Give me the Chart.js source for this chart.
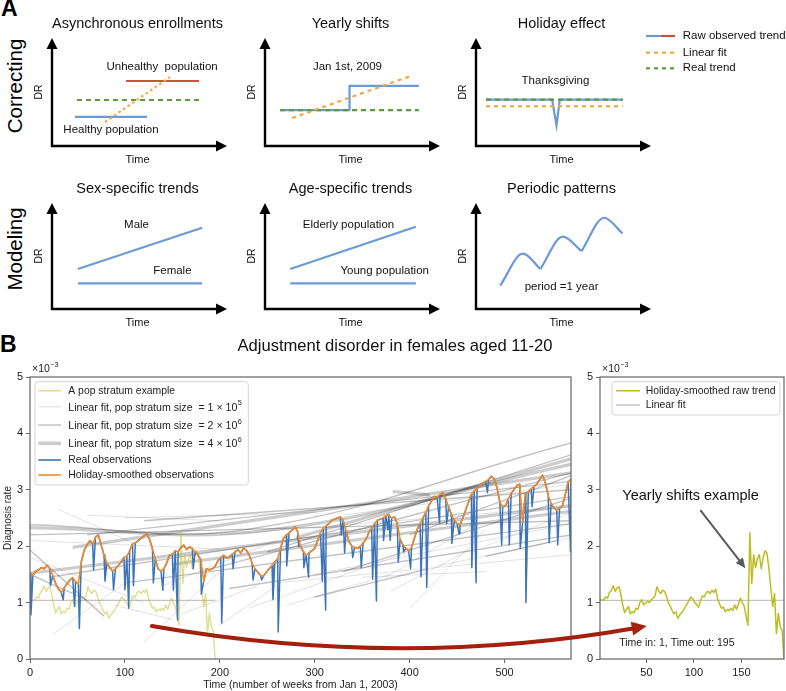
<!DOCTYPE html>
<html>
<head>
<meta charset="utf-8">
<script src="https://cdn.jsdelivr.net/npm/chart.js@4.4.1/dist/chart.umd.min.js"></script>
<style>
  body { margin: 0; background: #fff; }
  #page { position: relative; width: 786px; height: 691px; overflow: hidden; font-family: 'Liberation Sans', Arial, sans-serif; }
  canvas { position: absolute; }
  .lbl { position: absolute; color: #000; white-space: nowrap; }
  .rot { transform: translate(-50%, -50%) rotate(-90deg); font-size: 20.5px; }
</style>
</head>
<body>
<div id="page">
  <div class="lbl" style="left:1px;top:-5px;font-size:23px;font-weight:bold">A</div>
  <div class="lbl" style="left:0px;top:331px;font-size:23px;font-weight:bold">B</div>
  <div class="lbl rot" style="left:15px;top:86px">Correcting</div>
  <div class="lbl rot" style="left:15px;top:249px">Modeling</div>

  <canvas id="c1" width="225" height="164" style="left:7px;top:6px"></canvas>
  <canvas id="c2" width="225" height="164" style="left:220px;top:6px"></canvas>
  <canvas id="c3" width="355" height="164" style="left:431px;top:6px"></canvas>
  <canvas id="c4" width="225" height="164" style="left:7px;top:171px"></canvas>
  <canvas id="c5" width="225" height="164" style="left:220px;top:171px"></canvas>
  <canvas id="c6" width="225" height="164" style="left:431px;top:171px"></canvas>

  <canvas id="main" width="596" height="361" style="left:0px;top:330px"></canvas>
  <canvas id="side" width="210" height="361" style="left:576px;top:330px"></canvas>
  <canvas id="ov" width="786" height="361" style="left:0px;top:330px"></canvas>
</div>
<script>
const FONT = "'Liberation Sans', Arial, Helvetica, sans-serif";
Chart.defaults.font.family = FONT;
Chart.defaults.color = '#222';

// ---- Panel A schematics (units: 0-10 along each axis arrow) ----
const asyncHealthy = [[1.31, 2.69], [5.43, 2.69]];
const asyncUnhealthy = [[4.23, 6.02], [8.4, 6.02]];
const asyncReal = [[1.43, 4.26], [8.4, 4.26]];
const asyncFit = [[3.03, 2.22], [6.74, 6.39]];
const shiftRaw = [[0.86, 3.33], [4.83, 5.56], [8.79, 5.56]];
const shiftReal = [[0.86, 3.33], [8.79, 3.33]];
const shiftFit = [[1.55, 2.59], [8.33, 6.48]];
const holidayRaw = [[0.57, 4.3], [4.35, 4.3], [4.6, 1.92], [4.79, 4.3], [8.39, 4.3]];
const holidayReal = [[0.57, 4.3], [8.39, 4.3]];
const holidayFit = [[0.57, 3.68], [8.39, 3.68]];
const sexMale = [[1.48, 3.77], [8.58, 7.67]];
const sexFemale = [[1.48, 2.42], [8.58, 2.42]];
const ageElderly = [[1.44, 3.77], [8.62, 7.76]];
const ageYoung = [[1.44, 2.42], [8.62, 2.42]];
const periodArch1 = [[1.38, 2.2], [2.68, 5.22], [3.68, 3.77]];
const periodArch2 = [[3.68, 3.77], [4.96, 6.82], [6.03, 5.47]];
const periodArch3 = [[6.03, 5.47], [7.32, 8.61], [8.37, 7.14]];

// ---- Panel B data (diagnosis rate, x10^-3) ----
// holiday-smoothed observations, one value every 3 weeks from week 0
const smoothed = [
  1.52, 1.48, 1.56, 1.58, 1.62, 1.60, 1.66, 1.60, 1.48, 1.34,
  1.24, 1.18, 1.26, 1.33, 1.40, 1.44, 1.37, 1.33, 1.72, 1.92,
  2.02, 2.10, 2.04, 2.16, 2.20, 2.02, 1.84, 1.70, 1.62, 1.56,
  1.60, 1.66, 1.72, 1.80, 1.82, 1.92, 2.04, 2.06, 2.10, 2.14,
  2.18, 2.22, 2.12, 1.96, 1.78, 1.60, 1.56, 1.60, 1.70, 1.84,
  1.86, 1.92, 1.90, 1.98, 2.02, 1.94, 1.99, 1.96, 1.90, 1.84,
  1.76, 1.38, 1.60, 1.58, 1.60, 1.64, 1.74, 1.80, 1.84, 1.79,
  1.80, 1.86, 1.90, 1.94, 1.88, 1.96, 1.93, 1.84, 1.70, 1.60,
  1.54, 1.48, 1.47, 1.54, 1.60, 1.66, 1.72, 1.78, 1.96, 2.14,
  2.20, 2.24, 2.28, 2.34, 2.26, 2.00, 1.90, 1.84, 1.88, 1.92,
  1.96, 2.10, 2.24, 2.32, 2.36, 2.40, 2.46, 2.48, 2.50, 2.52,
  2.46, 2.28, 2.08, 2.00, 1.98, 1.96, 2.00, 2.06, 2.12, 2.24,
  2.32, 2.40, 2.46, 2.48, 2.50, 2.54, 2.56, 2.50, 2.52, 2.40,
  2.12, 2.02, 1.96, 1.92, 1.98, 2.14, 2.30, 2.40, 2.50, 2.60,
  2.72, 2.80, 2.88, 2.86, 2.92, 2.95, 2.84, 2.70, 2.56, 2.46,
  2.40, 2.38, 2.50, 2.64, 2.78, 2.92, 2.98, 3.02, 3.08, 3.12,
  3.15, 3.18, 3.24, 3.20, 3.04, 2.78, 2.70, 2.72, 2.84, 2.94,
  3.00, 3.08, 3.10, 2.42, 2.94, 2.96, 3.02, 3.06, 3.10, 3.18,
  3.26, 3.12, 2.90, 2.76, 2.68, 2.64, 2.68, 2.72, 2.92, 3.14,
  3.20
];
const smoothWeeks = smoothed.map((_, i) => i * 3);

// holiday dips of the real observations
const dipWeeks = [1, 21.5, 35, 47, 52, 67, 79, 88, 100, 104, 109, 130, 140, 151, 155.5, 172, 180.5,
  202, 214, 235, 244, 256, 261.5, 270.5, 283, 288.5, 293.5, 308, 311.5, 328, 331.5, 337.5, 340, 349,
  361, 365, 372.5, 377, 379.5, 388, 393.5, 401, 412, 418, 431.5, 439, 444.5, 452, 465.5, 470, 482,
  497, 505, 516.5, 522.5, 529, 547, 556, 569.5];
const dipLows = [0.78, 1.30, 1.05, 0.93, 0.54, 1.58, 1.38, 1.23, 1.23, 0.90, 1.30, 1.35, 1.22, 1.22, 0.69, 1.60, 1.15,
  0.64, 1.60, 1.40, 1.40, 1.05, 0.48, 1.65, 2.00, 1.62, 1.45, 1.38, 0.87, 2.20, 1.88, 2.05, 1.80, 1.62,
  1.42, 1.03, 2.10, 2.29, 2.10, 1.72, 1.90, 1.60, 1.46, 1.27, 2.41, 2.40, 2.05, 2.22, 1.62, 1.35, 2.95,
  2.02, 2.02, 1.96, 1.00, 2.70, 2.06, 2.02, 1.90];

// one pop stratum, holiday-smoothed raw trend, every 2 weeks from week 1 to 195
const exampleRaw = [
  1.06, 1.04, 1.05, 1.10, 1.08, 1.18, 1.22, 1.30, 1.20, 1.26,
  1.28, 1.14, 0.95, 0.82, 0.88, 0.93, 0.80, 0.84, 0.82, 0.90,
  0.88, 1.00, 1.05, 0.96, 0.99, 1.02, 1.00, 1.05, 1.08, 1.12,
  1.28, 1.20, 1.16, 1.22, 1.20, 1.12, 1.00, 0.94, 0.86, 0.80,
  0.84, 0.72, 0.78, 0.82, 0.86, 0.93, 0.98, 1.05, 1.10, 1.06,
  1.00, 0.96, 0.92, 1.04, 1.12, 1.10, 1.18, 1.20, 1.16, 1.22,
  1.18, 1.24, 1.06, 0.98, 0.90, 0.92, 0.84, 0.88, 0.86, 0.90,
  0.86, 0.96, 0.88, 0.98, 1.08, 1.00, 0.94, 0.76, 0.60, 2.24,
  1.34, 1.85, 1.62, 1.78, 1.85, 1.60, 1.80, 1.92, 1.88, 1.62,
  1.28, 0.93, 1.16, 0.45, 0.81, 0.57, 0.51, 0.00
];
const exampleWeeks = exampleRaw.map((_, i) => 1 + i * 2);
const exampleFitWeeks = [1, 195];
const exampleFitVals = [1.04, 1.04];

// linear fits of other strata: [week1, rate1, week2, rate2] or with a middle point
const fitsLarge = [
  [0, 2.33, 250, 2.28, 570, 3.45],
  [45, 1.98, 570, 3.3],
  [0, 1.52, 570, 2.72],
  [382, 2.97, 421, 2.91],
  [280, 2.15, 570, 3.55],
  [150, 1.68, 570, 2.62]
];
const fitsMid = [
  [0, 2.38, 230, 2.3, 570, 3.83],
  [0, 2.2, 570, 2.45],
  [20, 1.45, 570, 2.88],
  [60, 2.2, 570, 3.15],
  [100, 1.35, 570, 2.4],
  [120, 2.45, 570, 3.0],
  [180, 1.55, 570, 3.3],
  [210, 1.25, 570, 2.2],
  [250, 1.9, 570, 3.62],
  [330, 1.55, 570, 2.85],
  [400, 2.2, 570, 3.25],
  [480, 1.82, 555, 2.1],
  [300, 1.1, 420, 1.6],
  [0, 1.93, 78, 0.76],
  [0, 1.5, 60, 1.05]
];
const fitsSmall = [
  [30, 2.65, 110, 2.05], [60, 2.55, 200, 2.45], [100, 2.5, 300, 2.6], [0, 2.1, 200, 1.95],
  [25, 0.45, 100, 1.35], [120, 0.3, 200, 1.55], [200, 0.6, 260, 1.3], [230, 0.9, 400, 1.9],
  [260, 1.35, 570, 1.85], [380, 1.2, 470, 2.0], [400, 0.9, 480, 2.3], [430, 1.65, 570, 2.15],
  [0, 1.8, 120, 1.0], [140, 1.3, 260, 2.1], [300, 1.5, 570, 2.4], [350, 1.45, 480, 1.55],
  [160, 0.8, 240, 1.3], [270, 0.95, 380, 1.5], [90, 0.95, 150, 0.7], [480, 2.0, 570, 2.6],
  [200, 2.2, 570, 2.7], [330, 2.55, 570, 3.1], [375, 1.45, 470, 2.4]
];

const arrowFrom = [128.4, 0.585];   // main chart coords
const arrowTo = [50.3, 0.585];      // side chart coords

// ---------- helpers ----------
function pts(pairs) { return pairs.map(p => ({ x: p[0], y: p[1] })); }
function series(xs, ys) { return ys.map((v, i) => ({ x: xs[i], y: v })); }
function segPoints(s) {
  const out = [];
  for (let i = 0; i < s.length; i += 2) out.push({ x: s[i], y: s[i + 1] });
  return out;
}
function head(ctx, x1, y1, x2, y2, len, half, color) {
  const a = Math.atan2(y2 - y1, x2 - x1), c = Math.cos(a), s = Math.sin(a);
  ctx.beginPath();
  ctx.moveTo(x2, y2);
  ctx.lineTo(x2 - len * c + half * s, y2 - len * s - half * c);
  ctx.lineTo(x2 - len * c - half * s, y2 - len * s + half * c);
  ctx.closePath();
  ctx.fillStyle = color;
  ctx.fill();
}
function supText(ctx, base, sup, x, y, size, color) {
  ctx.fillStyle = color || '#222';
  ctx.textAlign = 'left';
  ctx.textBaseline = 'middle';
  ctx.font = size + 'px ' + FONT;
  ctx.fillText(base, x, y);
  const w = ctx.measureText(base).width;
  ctx.font = (size * 0.68) + 'px ' + FONT;
  ctx.fillText(sup, x + w + 0.5, y - size * 0.42);
}

const BLUE_A = '#6b9ad6', RED_A = '#c5543d', GREEN_A = '#5e9a3c', ORANGE_A = '#f4a640';

function line(pairs, color, extra) {
  return Object.assign({ data: pts(pairs), borderColor: color, borderWidth: 2.2 }, extra || {});
}

function smallChart(id, datasets, title, notes, extra) {
  const sketch = {
    id: 'sketch',
    afterDraw(chart) {
      const { ctx, chartArea: a, scales } = chart;
      const cx = (a.left + a.right) / 2;
      ctx.save();
      ctx.strokeStyle = '#000';
      ctx.lineWidth = 2.4;
      ctx.lineCap = 'square';
      ctx.beginPath();
      ctx.moveTo(a.left, a.bottom); ctx.lineTo(a.right - 9, a.bottom);
      ctx.moveTo(a.left, a.bottom); ctx.lineTo(a.left, a.top + 9);
      ctx.stroke();
      head(ctx, a.left, a.bottom, a.right, a.bottom, 11, 5.5, '#000');
      head(ctx, a.left, a.bottom, a.left, a.top, 11, 5.5, '#000');

      ctx.fillStyle = '#111';
      ctx.textAlign = 'center';
      ctx.textBaseline = 'middle';
      ctx.font = '14.5px ' + FONT;
      ctx.fillText(title, cx - 2, a.top - 14);
      ctx.font = '11px ' + FONT;
      ctx.fillText('Time', cx - 2, a.bottom + 14);
      ctx.font = '11.5px ' + FONT;
      notes.forEach(n => ctx.fillText(n.t, scales.x.getPixelForValue(n.x), scales.y.getPixelForValue(n.y)));
      ctx.save();
      ctx.translate(a.left - 13, (a.top + a.bottom) / 2);
      ctx.rotate(-Math.PI / 2);
      ctx.font = '10.5px ' + FONT;
      ctx.fillText('DR', 0, 0);
      ctx.restore();
      if (extra) extra(ctx, a);
      ctx.restore();
    }
  };
  const cv = document.getElementById(id);
  const padRight = cv.width - 45 - 175;
  const padBottom = cv.height - 32 - (id === 'c4' || id === 'c5' || id === 'c6' ? 106 : 108);
  return new Chart(cv, {
    type: 'line',
    data: { datasets },
    options: {
      responsive: false, animation: false, events: [],
      layout: { padding: { left: 45, top: 32, right: padRight, bottom: padBottom } },
      elements: { point: { radius: 0 }, line: { tension: 0, borderCapStyle: 'butt' } },
      plugins: { legend: { display: false }, tooltip: { enabled: false } },
      scales: {
        x: { type: 'linear', min: 0, max: 10, display: false },
        y: { type: 'linear', min: 0, max: 10, display: false }
      }
    },
    plugins: [sketch]
  });
}

// ---------- Panel A ----------
smallChart('c1', [
  line(asyncFit, ORANGE_A, { borderDash: [2.5, 3] }),
  line(asyncReal, GREEN_A, { borderDash: [5, 4] }),
  line(asyncUnhealthy, RED_A),
  line(asyncHealthy, BLUE_A)
], 'Asynchronous enrollments', [
  { t: 'Unhealthy  population', x: 6.29, y: 7.31 },
  { t: 'Healthy population', x: 3.37, y: 1.48 }
]);

smallChart('c2', [
  line(shiftFit, ORANGE_A, { borderDash: [4, 4] }),
  line(shiftReal, GREEN_A, { borderDash: [5, 4] }),
  line(shiftRaw, BLUE_A, { stepped: 'before' })
], 'Yearly shifts', [{ t: 'Jan 1st, 2009', x: 4.71, y: 7.31 }]);

smallChart('c3', [
  line(holidayReal, GREEN_A, { borderDash: [5, 4] }),
  line(holidayFit, ORANGE_A, { borderDash: [4, 4] }),
  line(holidayRaw, BLUE_A)
], 'Holiday effect', [{ t: 'Thanksgiving', x: 4.54, y: 5.99 }], (ctx, a) => {
  // legend of the schematic panels
  const x0 = 215, x1 = 244, tx = 251.7;
  const rows = [30, 46.7, 62.3];
  ctx.lineWidth = 2.2;
  ctx.lineCap = 'butt';
  ctx.setLineDash([]);
  ctx.strokeStyle = BLUE_A;
  ctx.beginPath(); ctx.moveTo(x0, rows[0]); ctx.lineTo((x0 + x1) / 2, rows[0]); ctx.stroke();
  ctx.strokeStyle = RED_A;
  ctx.beginPath(); ctx.moveTo((x0 + x1) / 2, rows[0]); ctx.lineTo(x1, rows[0]); ctx.stroke();
  ctx.setLineDash([4, 4]);
  ctx.strokeStyle = ORANGE_A;
  ctx.beginPath(); ctx.moveTo(x0, rows[1]); ctx.lineTo(x1, rows[1]); ctx.stroke();
  ctx.strokeStyle = GREEN_A;
  ctx.beginPath(); ctx.moveTo(x0, rows[2]); ctx.lineTo(x1, rows[2]); ctx.stroke();
  ctx.setLineDash([]);
  ctx.fillStyle = '#111';
  ctx.textAlign = 'left';
  ctx.font = '11.5px ' + FONT;
  ctx.fillText('Raw observed trend', tx, rows[0]);
  ctx.fillText('Linear fit', tx, rows[1]);
  ctx.fillText('Real trend', tx, rows[2]);
});

smallChart('c4', [line(sexMale, BLUE_A), line(sexFemale, BLUE_A)], 'Sex-specific trends', [
  { t: 'Male', x: 4.83, y: 7.92 }, { t: 'Female', x: 6.88, y: 3.58 }
]);
smallChart('c5', [line(ageElderly, BLUE_A), line(ageYoung, BLUE_A)], 'Age-specific trends', [
  { t: 'Elderly population', x: 4.77, y: 7.92 }, { t: 'Young population', x: 6.84, y: 3.58 }
]);
smallChart('c6', [
  line(periodArch1, BLUE_A, { cubicInterpolationMode: 'monotone' }),
  line(periodArch2, BLUE_A, { cubicInterpolationMode: 'monotone' }),
  line(periodArch3, BLUE_A, { cubicInterpolationMode: 'monotone' })
], 'Periodic patterns', [{ t: 'period =1 year', x: 4.89, y: 2.1 }]);

// ---------- Panel B ----------
const ORANGE = '#ee8a2a', BLUE = '#3d74ba', OLIVE = '#bcbd22';
const OLIVE_LIGHT = 'rgba(188,189,34,0.5)';
const GREY_S = 'rgba(0,0,0,0.12)', GREY_M = 'rgba(0,0,0,0.24)', GREY_L = 'rgba(0,0,0,0.2)';

function axis(min, max, step, fit, isX) {
  return {
    type: 'linear', min, max,
    ticks: { stepSize: step, includeBounds: false, maxRotation: 0, font: { size: 11 }, color: '#222', padding: 3 },
    grid: { display: true, drawOnChartArea: false, drawTicks: true, tickLength: 4, tickColor: '#666', tickWidth: 1 },
    border: { display: false },
    afterFit(s) { if (isX) s.height = fit; else s.width = fit; }
  };
}

const realPoints = series(smoothWeeks, smoothed).concat(series(dipWeeks, dipLows)).sort((a, b) => a.x - b.x);

const fitSets = [];
fitsLarge.forEach(s => fitSets.push({ data: segPoints(s), borderColor: GREY_L, borderWidth: 3.2, tension: 0.4 }));
fitsMid.forEach(s => fitSets.push({ data: segPoints(s), borderColor: GREY_M, borderWidth: 1.4, tension: 0.4 }));
fitsSmall.forEach(s => fitSets.push({ data: segPoints(s), borderColor: GREY_S, borderWidth: 1, tension: 0.4 }));

const legendMain = [
  { t: 'A pop stratum example', c: OLIVE_LIGHT, w: 1.6 },
  { t: 'Linear fit, pop stratum size  = 1 × 10', s: '5', c: GREY_S, w: 1.2 },
  { t: 'Linear fit, pop stratum size  = 2 × 10', s: '6', c: GREY_M, w: 1.5 },
  { t: 'Linear fit, pop stratum size  = 4 × 10', s: '6', c: GREY_L, w: 3.5 },
  { t: 'Real observations', c: BLUE, w: 1.6 },
  { t: 'Holiday-smoothed observations', c: ORANGE, w: 1.6 }
];
const legendMainRows = [60.7, 76.7, 95, 113.3, 130, 145];

function drawLegendBox(ctx, x, y, w, h, items, rows, sx0, sx1, tx) {
  ctx.fillStyle = 'rgba(255,255,255,0.85)';
  ctx.strokeStyle = '#d4d4d4';
  ctx.lineWidth = 1;
  ctx.beginPath();
  ctx.roundRect(x, y, w, h, 3);
  ctx.fill();
  ctx.stroke();
  items.forEach((it, i) => {
    ctx.strokeStyle = it.c;
    ctx.lineWidth = it.w;
    ctx.beginPath(); ctx.moveTo(sx0, rows[i]); ctx.lineTo(sx1, rows[i]); ctx.stroke();
    if (it.s) supText(ctx, it.t, it.s, tx, rows[i] + 1, 10.6, '#222');
    else {
      ctx.fillStyle = '#222'; ctx.textAlign = 'left'; ctx.textBaseline = 'middle';
      ctx.font = '10.4px ' + FONT;
      ctx.fillText(it.t, tx, rows[i]);
    }
  });
}

function frame(ctx, a) {
  ctx.strokeStyle = '#707070';
  ctx.lineWidth = 1.3;
  ctx.strokeRect(a.left, a.top, a.right - a.left, a.bottom - a.top);
  supText(ctx, '×10', '−3', a.left + 2, a.top - 8, 10.5, '#222');
}

const mainDeco = {
  id: 'mainDeco',
  afterDraw(chart) {
    const { ctx, chartArea: a } = chart;
    ctx.save();
    frame(ctx, a);
    ctx.fillStyle = '#111';
    ctx.textAlign = 'center';
    ctx.textBaseline = 'middle';
    ctx.font = '16.6px ' + FONT;
    ctx.fillText('Adjustment disorder in females aged 11-20', 395, 16);
    ctx.font = '10.5px ' + FONT;
    ctx.fillStyle = '#222';
    ctx.fillText('Time (number of weeks from Jan 1, 2003)', (a.left + a.right) / 2, 355);
    ctx.save();
    ctx.translate(8, (a.top + a.bottom) / 2);
    ctx.rotate(-Math.PI / 2);
    ctx.font = '10px ' + FONT;
    ctx.fillText('Diagnosis rate', 0, 0);
    ctx.restore();
    drawLegendBox(ctx, 35, 51.7, 213.3, 103.3, legendMain, legendMainRows, 38.3, 61, 68.3);
    ctx.restore();
  }
};

const mainChart = new Chart(document.getElementById('main'), {
  type: 'line',
  data: {
    datasets: [
      { data: series(smoothWeeks, smoothed), borderColor: ORANGE, borderWidth: 1.6 },
      { data: realPoints, borderColor: BLUE, borderWidth: 1.5 },
      { data: series(exampleWeeks, exampleRaw), borderColor: OLIVE_LIGHT, borderWidth: 1.4 },
      { data: series(exampleFitWeeks, exampleFitVals), borderColor: GREY_M, borderWidth: 1.4 }
    ].concat(fitSets)
  },
  options: {
    responsive: false, animation: false, events: [],
    layout: { padding: { top: 47, right: 25, left: 0, bottom: 0 } },
    elements: { point: { radius: 0 }, line: { tension: 0, borderJoinStyle: 'round' } },
    plugins: { legend: { display: false }, tooltip: { enabled: false } },
    scales: { x: axis(0, 570, 100, 32, true), y: axis(0, 5, 1, 30, false) }
  },
  plugins: [mainDeco]
});

const legendSide = [
  { t: 'Holiday-smoothed raw trend', c: OLIVE, w: 1.6 },
  { t: 'Linear fit', c: GREY_M, w: 1.5 }
];

const sideDeco = {
  id: 'sideDeco',
  afterDraw(chart) {
    const { ctx, chartArea: a, scales } = chart;
    ctx.save();
    frame(ctx, a);
    drawLegendBox(ctx, 36, 51.7, 168, 33.3, legendSide, [60.7, 75], 40, 64, 69.7);
    ctx.fillStyle = '#111';
    ctx.textAlign = 'center';
    ctx.textBaseline = 'middle';
    ctx.font = '14.5px ' + FONT;
    ctx.fillText('Yearly shifts example', scales.x.getPixelForValue(96.5), scales.y.getPixelForValue(2.89));
    ctx.font = '10.5px ' + FONT;
    ctx.fillStyle = '#222';
    ctx.fillText('Time in: 1, Time out: 195', scales.x.getPixelForValue(82), scales.y.getPixelForValue(0.29));
    const x1 = scales.x.getPixelForValue(106.8), y1 = scales.y.getPixelForValue(2.64);
    const x2 = scales.x.getPixelForValue(154.3), y2 = scales.y.getPixelForValue(1.61);
    const ang = Math.atan2(y2 - y1, x2 - x1);
    ctx.strokeStyle = '#5a5a5a';
    ctx.lineWidth = 2;
    ctx.beginPath();
    ctx.moveTo(x1, y1);
    ctx.lineTo(x2 - 8 * Math.cos(ang), y2 - 8 * Math.sin(ang));
    ctx.stroke();
    head(ctx, x1, y1, x2, y2, 10, 4.5, '#5a5a5a');
    ctx.restore();
  }
};

const sideChart = new Chart(document.getElementById('side'), {
  type: 'line',
  data: {
    datasets: [
      { data: series(exampleWeeks, exampleRaw), borderColor: OLIVE, borderWidth: 1.5 },
      { data: series(exampleFitWeeks, exampleFitVals), borderColor: GREY_M, borderWidth: 1.4 }
    ]
  },
  options: {
    responsive: false, animation: false, events: [],
    layout: { padding: { top: 47, right: 2, left: 0, bottom: 0 } },
    elements: { point: { radius: 0 }, line: { tension: 0, borderJoinStyle: 'round' } },
    plugins: { legend: { display: false }, tooltip: { enabled: false } },
    scales: { x: axis(1, 195, 50, 32, true), y: axis(0, 5, 1, 24, false) }
  },
  plugins: [sideDeco]
});

// curved red arrow linking the stratum in the main plot to the side plot
(function drawLink() {
  const ctx = document.getElementById('ov').getContext('2d');
  const sx = mainChart.scales.x.getPixelForValue(arrowFrom[0]);
  const sy = mainChart.scales.y.getPixelForValue(arrowFrom[1]);
  const ex = 576 + sideChart.scales.x.getPixelForValue(arrowTo[0]);
  const ey = sideChart.scales.y.getPixelForValue(arrowTo[1]);
  const midY = mainChart.scales.y.getPixelForValue(0.2);
  const cx = (sx + ex) / 2, cy = 2 * midY - (sy + ey) / 2;
  const ang = Math.atan2(ey - cy, ex - cx);
  const color = '#a3200e';
  ctx.strokeStyle = color;
  ctx.lineWidth = 4;
  ctx.lineCap = 'round';
  ctx.beginPath();
  ctx.moveTo(sx, sy);
  ctx.quadraticCurveTo(cx, cy, ex - 11 * Math.cos(ang), ey - 11 * Math.sin(ang));
  ctx.stroke();
  head(ctx, cx, cy, ex, ey, 15, 7, color);
})();
</script>
</body>
</html>
